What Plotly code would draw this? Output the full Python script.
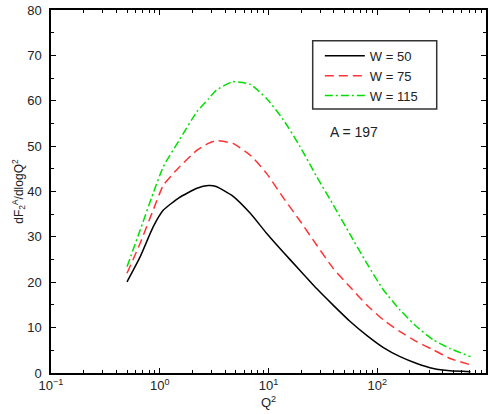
import plotly.graph_objects as go

# Q^2 grid (GeV^2)
q2 = [0.5, 0.66, 0.87, 1.08, 1.5, 2.2, 2.8, 3.3, 4.7, 6.8, 9.6, 13.7, 19.5, 27.7, 39.5, 56, 80, 114, 162, 231, 328, 467, 720]

# dF2^A/dlogQ^2 for A = 197
w50 = [20.1, 25.6, 32.2, 35.9, 38.6, 40.7, 41.3, 41.1, 39.0, 35.2, 30.8, 26.6, 22.6, 18.6, 14.9, 11.4, 8.3, 5.6, 3.6, 2.1, 1.0, 0.5, 0.3]
w75 = [22.0, 28.6, 35.9, 41.4, 45.3, 49.1, 50.6, 51.2, 50.6, 48.0, 44.0, 38.6, 33.5, 28.2, 23.0, 19.0, 15.0, 11.7, 9.1, 6.9, 5.1, 3.2, 1.8]
w115 = [23.4, 31.5, 39.6, 45.5, 51.2, 57.6, 60.4, 62.3, 64.2, 63.6, 60.5, 55.8, 49.9, 43.3, 37.0, 30.6, 24.2, 18.3, 13.9, 10.2, 7.3, 5.4, 3.6]

series_names = ["W = 50", "W = 75", "W = 115"]
x_tick_vals = [0.1, 1, 10, 100, 1000]
x_tick_text = ["10<sup>−1</sup>", "10<sup>0</sup>", "10<sup>1</sup>", "10<sup>2</sup>", "10<sup>3</sup>"]
x_minor_vals = [m * d for d in [0.1, 1, 10, 100] for m in range(2, 10)]

font = "Liberation Sans, Arial, sans-serif"

fig = go.Figure()
styles = [
    dict(color="black", width=1.5, dash="solid"),
    dict(color="#ff3333", width=1.5, dash="9px,5px"),
    dict(color="#00e000", width=1.5, dash="8px,3px,2px,3px"),
]
for ys, name, st in zip([w50, w75, w115], series_names, styles):
    fig.add_trace(go.Scatter(x=q2, y=ys, mode="lines", name=name,
                             line=dict(shape="spline", smoothing=0.5, **st)))

axis_common = dict(
    showline=True, linecolor="black", linewidth=1.5, mirror="ticks",
    ticks="inside", ticklen=5, tickwidth=1, tickcolor="black",
    showgrid=False, zeroline=False, automargin=False,
    tickfont=dict(family=font, size=13, color="#222"),
)

fig.update_xaxes(
    type="log", range=[-1, 3], tickmode="array", tickvals=x_tick_vals, ticktext=x_tick_text,
    minor=dict(tickmode="array", tickvals=x_minor_vals, ticks="inside", ticklen=3, tickcolor="black", showgrid=False),
    title=dict(text="Q<sup>2</sup>", font=dict(family=font, size=13, color="#222"), standoff=6),
    **axis_common,
)
fig.update_yaxes(
    range=[0, 80], dtick=10, ticklabelstandoff=5,
    minor=dict(dtick=5, ticks="inside", ticklen=3, tickcolor="black", showgrid=False),
    title=dict(text="dF<sub>2</sub><sup>A</sup>/dlogQ<sup>2</sup>", font=dict(family=font, size=12, color="#222"), standoff=0),
    **axis_common,
)

fig.add_annotation(x=0.756, y=0.664, xref="paper", yref="paper", text="A = 197", showarrow=False,
                   font=dict(family=font, size=14, color="#222"))

# legend frame
fig.add_shape(type="rect", xref="paper", yref="paper", x0=0.6016, x1=0.8867, y0=0.7273, y1=0.9154,
              line=dict(color="#333", width=1.5), fillcolor="rgba(0,0,0,0)")

fig.update_layout(
    width=494, height=414,
    margin=dict(l=51, r=8, t=10, b=41),
    paper_bgcolor="white", plot_bgcolor="white",
    legend=dict(x=0.618, y=0.915, xanchor="left", yanchor="top", borderwidth=0,
                bgcolor="rgba(0,0,0,0)", font=dict(family=font, size=13, color="#222"),
                tracegroupgap=0, itemwidth=40),
)

fig.write_html("out.html")
